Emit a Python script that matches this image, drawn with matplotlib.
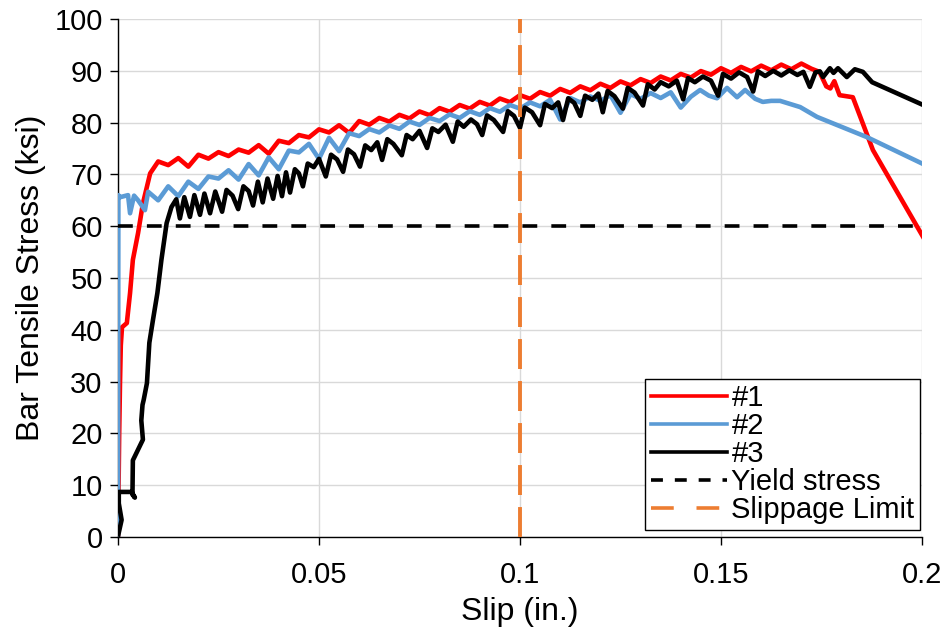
import numpy as np
import matplotlib
matplotlib.use("Agg")
import matplotlib.pyplot as plt
from matplotlib.lines import Line2D

plt.rcParams['font.family'] = ['Liberation Sans', 'DejaVu Sans']

# --- datos (slip in., stress ksi) ---
curve_1 = [
    (0.0000, 0.0), (0.0003, 20.0), (0.0005, 29.7), (0.0007, 37.0), (0.0010, 40.5),
    (0.0022, 41.3), (0.0030, 47.1), (0.0037, 53.5), (0.0050, 58.7), (0.0062, 64.4),
    (0.0080, 70.2), (0.0100, 72.5), (0.0125, 71.8), (0.0150, 73.15), (0.0175, 71.5),
    (0.0200, 73.8), (0.0225, 73.05), (0.0250, 74.3), (0.0275, 73.55), (0.0300, 74.8),
    (0.0325, 74.2), (0.0350, 75.65), (0.0375, 74.0), (0.0400, 76.5), (0.0425, 76.05),
    (0.0450, 77.6), (0.0475, 77.15), (0.0500, 78.7), (0.0525, 78.1), (0.0550, 79.5),
    (0.0575, 78.0), (0.0600, 80.3), (0.0625, 79.6), (0.0650, 80.9), (0.0675, 80.2),
    (0.0700, 81.5), (0.0725, 80.8), (0.0750, 82.15), (0.0775, 81.45), (0.0800, 82.8),
    (0.0825, 82.1), (0.0850, 83.4), (0.0875, 82.7), (0.0900, 84.0), (0.0925, 83.3),
    (0.0950, 84.65), (0.0975, 83.95), (0.1000, 85.3), (0.1025, 84.6), (0.1050, 85.9),
    (0.1075, 85.2), (0.1100, 86.5), (0.1125, 85.75), (0.1150, 87.0), (0.1175, 86.25),
    (0.1200, 87.5), (0.1225, 86.7), (0.1250, 87.95), (0.1275, 87.2), (0.1300, 88.4),
    (0.1325, 87.65), (0.1350, 88.9), (0.1375, 88.15), (0.1400, 89.4), (0.1425, 88.7),
    (0.1450, 89.95), (0.1475, 89.25), (0.1500, 90.5), (0.1525, 89.6), (0.1550, 90.75),
    (0.1575, 89.9), (0.1600, 91.0), (0.1625, 90.1), (0.1650, 91.2), (0.1675, 90.3),
    (0.1700, 91.4), (0.1725, 90.4), (0.1745, 89.8), (0.1762, 87.0), (0.1772, 86.6),
    (0.1782, 88.0), (0.1795, 85.3), (0.1828, 84.9), (0.1878, 74.7), (0.2003, 57.9),
]

curve_2 = [
    (0.0000, 0.0), (0.0001, 66.0), (0.0005, 65.6), (0.0025, 66.0), (0.0030, 62.5),
    (0.0040, 65.9), (0.0050, 65.0), (0.0067, 63.1), (0.0075, 66.65), (0.0100, 65.0),
    (0.0125, 67.7), (0.0150, 65.8), (0.0175, 68.6), (0.0200, 67.2), (0.0225, 69.6),
    (0.0250, 69.2), (0.0275, 70.8), (0.0300, 69.0), (0.0325, 72.0), (0.0350, 69.8),
    (0.0375, 73.3), (0.0400, 71.0), (0.0425, 74.6), (0.0450, 74.25), (0.0475, 75.9),
    (0.0500, 73.0), (0.0525, 77.05), (0.0550, 74.5), (0.0575, 77.95), (0.0600, 77.4),
    (0.0625, 78.75), (0.0650, 78.1), (0.0675, 79.45), (0.0700, 78.8), (0.0725, 80.2),
    (0.0750, 79.55), (0.0775, 80.9), (0.0800, 80.3), (0.0825, 81.6), (0.0850, 80.9),
    (0.0875, 82.2), (0.0900, 81.5), (0.0925, 82.8), (0.0950, 82.1), (0.0975, 83.4),
    (0.1000, 82.7), (0.1025, 83.9), (0.1050, 83.15), (0.1075, 84.4), (0.1100, 80.6),
    (0.1125, 84.75), (0.1150, 83.9), (0.1175, 85.05), (0.1200, 84.2), (0.1225, 85.3),
    (0.1250, 81.9), (0.1275, 85.5), (0.1300, 84.6), (0.1325, 85.7), (0.1350, 84.75),
    (0.1375, 85.85), (0.1400, 82.9), (0.1425, 85.0), (0.1448, 86.3), (0.1470, 85.2),
    (0.1490, 84.7), (0.1515, 86.7), (0.1540, 84.9), (0.1560, 86.3), (0.1585, 84.6),
    (0.1604, 84.0), (0.1625, 84.2), (0.1647, 84.2), (0.1697, 83.0), (0.1739, 81.1),
    (0.1863, 77.2), (0.2003, 72.0),
]

curve_3 = [
    (0.0001, 0.5), (0.0009, 3.3), (0.0002, 6.5), (0.0002, 8.7), (0.0034, 8.7),
    (0.0042, 7.6), (0.0036, 8.2), (0.0037, 14.8), (0.0052, 17.2), (0.0062, 18.8),
    (0.0058, 22.5), (0.0061, 25.5), (0.0064, 26.5), (0.0072, 29.7), (0.0078, 37.5),
    (0.0087, 41.9), (0.0098, 47.1), (0.0108, 53.5), (0.0121, 60.6), (0.0133, 63.7),
    (0.0145, 65.2), (0.0154, 61.5), (0.0165, 65.6), (0.0179, 61.8), (0.0190, 66.0),
    (0.0204, 62.2), (0.0215, 66.3), (0.0229, 62.5), (0.0242, 66.7), (0.0259, 62.8),
    (0.0270, 67.0), (0.0285, 65.9), (0.0299, 63.3), (0.0312, 67.7), (0.0325, 66.8),
    (0.0336, 64.0), (0.0348, 68.6), (0.0360, 64.6), (0.0372, 69.2), (0.0386, 65.3),
    (0.0397, 69.7), (0.0408, 65.8), (0.0418, 70.4), (0.0428, 66.5), (0.0440, 71.0),
    (0.0450, 70.2), (0.0460, 67.7), (0.0472, 72.1), (0.0487, 71.4), (0.0500, 73.0),
    (0.0517, 69.6), (0.0530, 73.8), (0.0545, 72.9), (0.0560, 70.5), (0.0572, 74.8),
    (0.0587, 73.9), (0.0602, 71.5), (0.0615, 75.6), (0.0630, 74.7), (0.0645, 76.2),
    (0.0657, 72.8), (0.0670, 76.8), (0.0685, 75.9), (0.0706, 73.7), (0.0718, 77.6),
    (0.0733, 76.8), (0.0750, 78.4), (0.0769, 75.1), (0.0782, 78.9), (0.0797, 78.2),
    (0.0815, 79.6), (0.0833, 76.3), (0.0845, 80.2), (0.0860, 79.2), (0.0878, 80.6),
    (0.0893, 79.7), (0.0906, 77.6), (0.0918, 81.4), (0.0935, 80.5), (0.0958, 78.2),
    (0.0970, 82.2), (0.0985, 81.3), (0.1000, 79.0), (0.1012, 82.9), (0.1030, 82.0),
    (0.1050, 79.5), (0.1062, 83.6), (0.1080, 82.8), (0.1095, 83.9), (0.1107, 80.5),
    (0.1120, 84.7), (0.1135, 83.8), (0.1150, 81.3), (0.1162, 85.2), (0.1180, 84.4),
    (0.1195, 85.6), (0.1206, 82.0), (0.1218, 86.1), (0.1235, 85.1), (0.1256, 82.7),
    (0.1268, 86.7), (0.1285, 85.8), (0.1306, 83.3), (0.1318, 87.4), (0.1335, 86.4),
    (0.1350, 87.8), (0.1370, 87.0), (0.1390, 88.1), (0.1406, 84.5), (0.1418, 88.6),
    (0.1435, 87.8), (0.1455, 88.9), (0.1475, 88.1), (0.1493, 85.2), (0.1505, 89.4),
    (0.1525, 88.5), (0.1545, 89.7), (0.1565, 88.8), (0.1580, 86.0), (0.1592, 89.9),
    (0.1610, 89.0), (0.1630, 90.0), (0.1650, 89.1), (0.1670, 90.1), (0.1690, 89.2),
    (0.1705, 89.8), (0.1721, 86.9), (0.1735, 89.7), (0.1746, 89.9), (0.1754, 88.8),
    (0.1771, 90.5), (0.1780, 89.6), (0.1791, 90.5), (0.1813, 88.8), (0.1833, 90.3),
    (0.1853, 89.8), (0.1876, 87.8), (0.2003, 83.4),
]

yield_stress = 60
slip_limit = 0.1
labels = ['#1', '#2', '#3', 'Yield stress', 'Slippage Limit']
colors = ['#FF0000', '#5B9BD5', '#000000', '#000000', '#ED7D31']

# =========================================================
fig = plt.figure(figsize=(9.5, 6.34), dpi=100)
ax = fig.add_axes([0.1242, 0.1530, 0.8463, 0.8170])

for curve, col in zip([curve_1, curve_2, curve_3], colors[:3]):
    xs = [p[0] for p in curve]
    ys = [p[1] for p in curve]
    ax.plot(xs, ys, color=col, lw=3.3, solid_joinstyle='round', zorder=3)

ax.axhline(yield_stress, color=colors[3], lw=2.6, linestyle=(0, (4.1, 3.9)),
           dash_capstyle='butt', zorder=4)
ax.axvline(slip_limit, color=colors[4], lw=2.8, linestyle=(0, (7.7, 3.1)),
           dash_capstyle='butt', zorder=5)

ax.set_xlim(0, 0.2)
ax.set_ylim(0, 100)
ax.set_xticks([0, 0.05, 0.1, 0.15, 0.2])
ax.set_xticklabels(['0', '0.05', '0.1', '0.15', '0.2'])
ax.set_yticks(np.arange(0, 101, 10))

ax.grid(True, color='#D9D9D9', lw=1.0)
ax.set_axisbelow(True)
for s in ['top', 'right']:
    ax.spines[s].set_visible(False)
for s in ['left', 'bottom']:
    ax.spines[s].set_color('black')
    ax.spines[s].set_linewidth(1.0)

ax.tick_params(axis='both', direction='out', length=6, width=1.0, labelsize=21,
               colors='black')
ax.tick_params(axis='x', pad=11)
ax.tick_params(axis='y', pad=5)
ax.set_xlabel('Slip (in.)', fontsize=23, labelpad=6)
ax.set_ylabel('Bar Tensile Stress (ksi)', fontsize=23, labelpad=6)

handles = [
    Line2D([], [], color=colors[0], lw=2.6),
    Line2D([], [], color=colors[1], lw=2.6),
    Line2D([], [], color=colors[2], lw=2.6),
    Line2D([], [], color=colors[3], lw=2.6, linestyle=(0, (3.3, 3.3))),
    Line2D([], [], color=colors[4], lw=2.6, linestyle=(0, (6.3, 6.3))),
]
leg = ax.legend(handles, labels, loc='lower right', bbox_to_anchor=(0.998, 0.013),
                borderaxespad=0, fontsize=21, handlelength=2.6, handletextpad=0.15,
                labelspacing=0.0, borderpad=0.2, fancybox=False, framealpha=1)
leg.get_frame().set_edgecolor('black')
leg.get_frame().set_linewidth(1.0)

plt.savefig('out.png', dpi=100)
